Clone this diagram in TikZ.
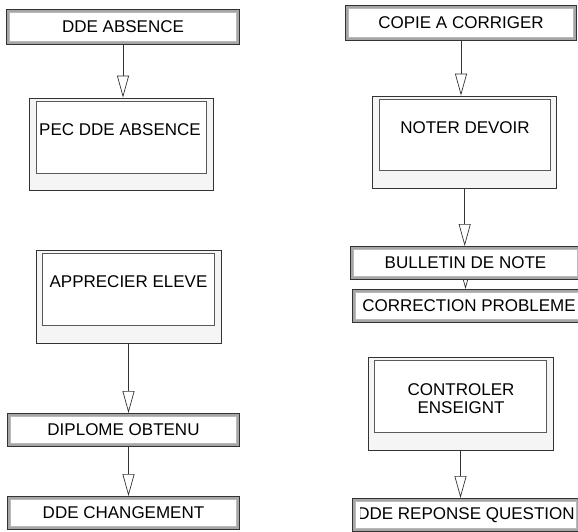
\documentclass[tikz,border=0pt]{standalone}
\usepackage{fontspec}
\setmainfont{Liberation Sans}
\usetikzlibrary{arrows.meta,backgrounds}
\begin{document}
\begin{tikzpicture}[x=1pt,y=-1pt,
 font=\fontsize{17}{18.7}\selectfont,
 banner/.style={draw=black!80, line width=0.8pt, fill=gray!70, inner sep=0pt, text=black,
   path picture={\draw[draw=gray!55, line width=0.5pt, fill=white]
     ([xshift=3.2pt,yshift=-3.2pt]path picture bounding box.north west) rectangle
     ([xshift=-3.2pt,yshift=3.2pt]path picture bounding box.south east);}},
 proc/.style={draw=black!80, line width=0.8pt, fill=gray!8, inner sep=0pt,
   path picture={\draw[draw=black!65, line width=0.8pt, fill=white]
     ([xshift=6.5pt,yshift=-3pt]path picture bounding box.north west) rectangle
     ([xshift=-6.5pt,yshift=17.5pt]path picture bounding box.south east);}},
 lbl/.style={inner sep=0pt, text=black, align=center},
 flow/.style={draw=black!80, line width=0.8pt, -{Triangle[open, length=22pt, width=12pt, line width=0.7pt]}}
]
\useasboundingbox (0,0) rectangle (578,531);
\clip (0,0) rectangle (578,531);

\node[banner, minimum width=233.2pt, minimum height=35.2pt] (dabs) at (123,27) {DDE ABSENCE};
\node[proc, minimum width=183.8pt, minimum height=92.7pt] (pec) at (121.4,144.35) {};
\node[lbl] (peclbl) at (120,130) {PEC DDE ABSENCE};

\node[banner, minimum width=231.2pt, minimum height=35.2pt] (copie) at (461,23) {COPIE A CORRIGER};
\node[proc, minimum width=184pt, minimum height=92.3pt] (noter) at (464.7,142.15) {};
\node[lbl] (noterlbl) at (465,128) {NOTER DEVOIR};
\node[banner, minimum width=230.2pt, minimum height=33.2pt] (bull) at (465.5,263) {BULLETIN DE NOTE};
\node[banner, minimum width=233.2pt, minimum height=33.2pt] (corr) at (469,306) {CORRECTION PROBLEME};

\node[proc, minimum width=185pt, minimum height=93pt] (appr) at (128.5,296.5) {};
\node[lbl] (apprlbl) at (128.5,282) {APPRECIER ELEVE};
\node[banner, minimum width=232.2pt, minimum height=33.2pt] (dipl) at (123.5,430) {DIPLOME OBTENU};
\node[banner, minimum width=232.2pt, minimum height=33.2pt] (dchg) at (123.5,513) {DDE CHANGEMENT};

\node[proc, minimum width=185pt, minimum height=93pt] (ctrl) at (460.5,403.5) {};
\node[lbl] (ctrllbl) at (461,398.6) {CONTROLER\\ENSEIGNT};
\node[banner, minimum width=227.2pt, minimum height=33.2pt] (drep) at (466,515) {};
\begin{scope}
\clip (360,498) rectangle (585,535);
\node[lbl] (dreplbl) at (466,515) {DDE REPONSE QUESTION};
\end{scope}

\coordinate (ax) at (appr.south);
\begin{scope}[on background layer]
\fill[white] (0,0) rectangle (578,531);
\draw[flow] (dabs.south) -- (dabs.south |- pec.north);
\draw[flow] (copie.south) -- (copie.south |- noter.north);
\draw[flow] (noter.south) -- (noter.south |- bull.north);
\draw[flow] (bull.south) -- (bull.south |- corr.north);
\draw[flow] (appr.south) -- (appr.south |- dipl.north);
\draw[flow] (ax |- dipl.south) -- (ax |- dchg.north);
\draw[flow] (ctrl.south) -- (ctrl.south |- drep.north);
\end{scope}
\end{tikzpicture}
\end{document}
